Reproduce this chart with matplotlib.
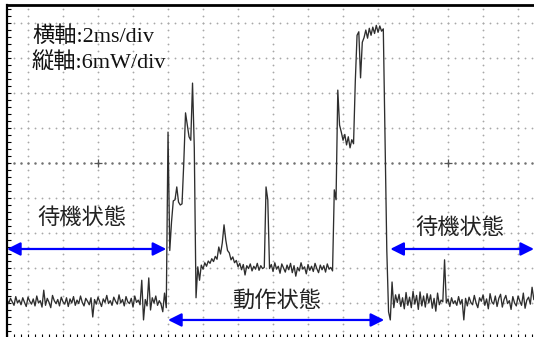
# オシロスコープ波形（待機状態 / 動作状態）の再現
import numpy as np
import matplotlib.pyplot as plt

plt.rcParams['font.family'] = ['Noto Sans CJK JP', 'DejaVu Sans']

# ---- 測定データ（画像から読み取り, 0.1 ms 間隔, 単位 mW） ----
t_start_ms = -1.2
dt_ms = 0.1

standby_before = [
    6.6, 5.9, 6.8, 6.2, 5.6, 7.1, 6.0, 6.5, 5.7, 6.9,
    6.1, 5.4, 7.0, 6.3, 5.8, 6.7, 5.5, 7.2, 6.0, 6.4,
    5.3, 8.2, 5.6, 6.8, 6.1, 5.2, 7.3, 6.4, 5.9, 6.6,
    5.5, 7.0, 6.2, 5.8, 6.9, 5.4, 6.7, 6.0, 7.1, 5.6,
    6.5, 5.9, 7.2, 6.1, 5.5, 6.8, 6.3, 5.7, 6.9, 3.6,
    6.6, 5.8, 7.0, 6.2, 5.4, 6.7, 6.1, 7.3, 5.9, 6.4,
    5.6, 7.0, 6.3, 5.8, 7.4, 6.0, 6.6, 5.5, 7.1, 6.2,
    5.9, 6.8, 5.3, 7.2, 6.1, 6.5, 5.7, 9.9, 3.1, 6.6,
    5.5, 10.3, 4.8, 6.9, 6.0, 7.2, 5.6, 6.4, 5.8, 4.5,
    7.7, 5.2,
]

active = [
    35.3, 15.0, 19.9, 23.5, 23.7, 25.9, 23.3, 22.8, 23.0, 30.0,
    38.6, 36.5, 34.5, 33.9, 43.7, 32.7, 6.9, 12.2, 9.9, 12.5,
    11.8, 12.9, 12.3, 13.2, 12.8, 13.6, 13.1, 14.0, 13.5, 15.6,
    14.4, 16.3, 19.4, 16.8, 15.0, 14.6, 13.4, 13.9, 12.9, 13.3,
    12.2, 12.8, 11.7, 12.6, 10.8, 12.4, 11.9, 12.7, 11.5, 12.3,
    11.8, 12.8, 11.6, 12.4, 11.9, 12.1, 25.9, 23.7, 11.9,
    12.6, 11.4, 12.9, 11.8, 12.3, 11.1, 12.7, 12.0, 11.3, 12.5,
    11.7, 12.8, 11.2, 12.4, 10.6, 12.1, 11.5, 12.9, 11.8, 12.2,
    11.0, 12.6, 11.6, 12.3, 11.4, 12.8, 11.9, 11.2, 12.5, 11.7,
    12.4, 11.3, 12.7, 11.8, 12.1, 11.5,
    25.4, 23.7, 42.5, 36.5, 35.3, 33.9, 34.9, 33.1, 34.5, 32.6,
    34.0, 33.3, 44.0, 51.9, 52.5, 44.6, 50.7, 51.5, 52.8, 51.4,
    53.1, 51.9, 53.3, 52.2, 53.6, 52.4, 53.5, 52.6, 53.0, 34.0,
    15.0, 4.5, 3.1, 9.6, 5.2, 7.4,
]

standby_after = [
    6.1, 7.5, 5.4, 6.9, 5.0, 7.8, 5.6, 7.0,
    5.2, 8.0, 5.8, 7.3, 4.9, 7.9, 5.5, 7.2, 5.3, 7.6,
    6.0, 7.4, 5.1, 6.8, 4.6, 7.7, 5.7, 6.5, 6.2, 13.4,
    6.0, 6.7, 5.4, 6.9, 5.9, 6.4, 5.6, 7.1, 5.8, 6.6,
    3.1, 6.8, 5.5, 7.0, 6.1, 5.7, 7.3, 6.0, 5.2, 6.9,
    6.3, 7.4, 5.6, 6.7, 5.0, 7.6, 6.2, 5.8, 7.2, 5.4,
    6.8, 7.5, 5.3, 6.6, 7.3, 5.9, 6.4, 4.9, 7.1, 6.0,
    5.5, 7.2, 6.3, 5.6, 7.7, 5.1, 6.5, 7.0, 5.8, 8.7, 6.6,
]

power = np.array(standby_before + active + standby_after)
t = t_start_ms + dt_ms * np.arange(len(power))

# ---- スケール ----
ms_per_div = 2
mw_per_div = 6
xlim = (-1.2, 28.91)
ylim = (0, 57.09)

fig = plt.figure(figsize=(5.34, 3.37), dpi=100)
ax = fig.add_axes([7 / 534, -1 / 337, 1 - 7 / 534, 333 / 337])
ax.set_xlim(*xlim)
ax.set_ylim(*ylim)

# ---- 点線グリッド ----
sub_x = np.round(np.arange(xlim[0], xlim[1], ms_per_div / 5), 2)
sub_y = np.round(np.arange(0, ylim[1], mw_per_div / 5), 2)
for gx in np.arange(0, xlim[1], ms_per_div):
    ax.plot(np.full(len(sub_y), gx), sub_y, 'o', ms=1.3, color='#a8a8a8', mew=0, zorder=1)
for gy in np.arange(mw_per_div, ylim[1], mw_per_div):
    c = '#707070' if gy == 30 else '#a8a8a8'
    s = 1.8 if gy == 30 else 1.3
    ax.plot(sub_x, np.full(len(sub_x), gy), 'o', ms=s, color=c, mew=0, zorder=1)
ax.plot([4, 24], [30, 30], '+', ms=6, mew=0.9, color='#555555', zorder=1)

# ---- 波形 ----
ax.plot(t, power, color='#2e2e2e', lw=0.95, zorder=2)

# ---- 矢印 ----
arrow_kw = dict(arrowstyle='<|-|>', color='#0000ff', lw=1.6,
                mutation_scale=20, shrinkA=0, shrinkB=0)
ax.annotate('', xy=(7.9, 15.26), xytext=(-1.2, 15.26), arrowprops=arrow_kw, zorder=3)
ax.annotate('', xy=(28.91, 15.26), xytext=(20.7, 15.26), arrowprops=arrow_kw, zorder=3)
ax.annotate('', xy=(20.35, 3.09), xytext=(8.0, 3.09), arrowprops=arrow_kw, zorder=3)

# ---- テキスト ----
ax.text(3.09, 20.7, '待機状態', fontsize=16, color='#222222', ha='center', va='center')
ax.text(24.7, 18.9, '待機状態', fontsize=16, color='#222222', ha='center', va='center')
ax.text(14.23, 6.5, '動作状態', fontsize=16, color='#222222', ha='center', va='center')

serif_jp = ['Liberation Serif', 'Noto Sans CJK JP']
ax.text(0.23, 51.6, '横軸:2ms/div', fontsize=16, family=serif_jp, color='#111111', va='center')
ax.text(0.23, 47.3, '縦軸:6mW/div', fontsize=16, family=serif_jp, color='#111111', va='center')

# ---- 枠と目盛 ----
ax.set_xticks(sub_x)
ax.set_yticks(sub_y)
ax.tick_params(direction='in', length=3, width=0.8, labelbottom=False, labelleft=False)
ax.spines['right'].set_visible(False)
ax.spines['bottom'].set_visible(False)
ax.spines['top'].set_linewidth(2)
ax.spines['left'].set_linewidth(1.6)

plt.savefig('out.png', dpi=100)
